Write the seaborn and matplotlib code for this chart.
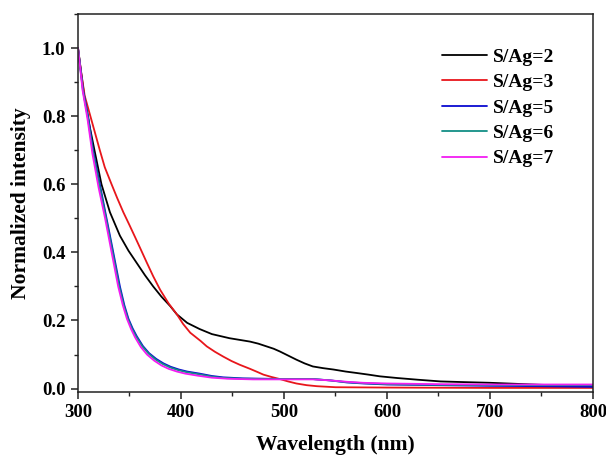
import numpy as np
import pandas as pd
import seaborn as sns
import matplotlib
matplotlib.use("Agg")
import matplotlib.pyplot as plt
from matplotlib.ticker import MultipleLocator, FormatStrFormatter

# ---- data ----
wl_2 = [300, 303, 306.5, 311, 316, 322.8, 331, 340.7, 349, 357, 365, 373, 381, 389.6, 396,
        406, 418, 430, 447, 457, 467, 475, 483, 490, 496, 504, 512, 520, 528, 538, 548,
        560, 570, 582, 593, 610, 630, 652, 675, 700, 750, 800]
int_2 = [1.0, 0.93, 0.85, 0.775, 0.70, 0.60, 0.518, 0.449, 0.405, 0.369, 0.333, 0.30,
         0.27, 0.242, 0.218, 0.193, 0.175, 0.160, 0.148, 0.143, 0.138, 0.132, 0.124,
         0.117, 0.109, 0.097, 0.085, 0.074, 0.065, 0.060, 0.056, 0.050, 0.046, 0.041,
         0.036, 0.031, 0.026, 0.021, 0.019, 0.017, 0.011, 0.007]

wl_3 = [300, 303, 306.5, 314.7, 321.2, 326, 332.6, 338, 344, 350, 355.4, 360.3, 366.8,
        373, 379.8, 388, 396, 402, 409, 419, 425, 433, 441, 449, 457, 467, 474, 480,
        488, 496, 504, 512, 522, 532, 550, 600, 700, 800]
int_3 = [1.0, 0.93, 0.86, 0.771, 0.70, 0.65, 0.60, 0.56, 0.518, 0.48, 0.445, 0.413, 0.37,
         0.33, 0.29, 0.25, 0.218, 0.19, 0.164, 0.14, 0.124, 0.108, 0.094, 0.081, 0.070,
         0.058, 0.049, 0.041, 0.034, 0.028, 0.021, 0.015, 0.010, 0.007, 0.004, 0.003,
         0.002, 0.002]

wl_5 = [300, 304.9, 309.8, 314.7, 321.2, 327.7, 333.6, 340.7, 345, 349, 353, 357, 363,
        369, 376, 383, 390, 398, 406, 418, 430, 441, 460, 480, 500, 528, 545, 561, 577,
        600, 650, 700, 750, 800]
int_5 = [1.0, 0.878, 0.80, 0.70, 0.60, 0.50, 0.41, 0.30, 0.245, 0.205, 0.177, 0.154,
         0.125, 0.104, 0.087, 0.074, 0.064, 0.056, 0.050, 0.044, 0.037, 0.033, 0.030,
         0.029, 0.028, 0.028, 0.024, 0.018, 0.015, 0.012, 0.010, 0.008, 0.007, 0.005]

wl_6 = [300, 304.7, 309.5, 314.4, 320.8, 327.2, 333, 340, 344.4, 348.4, 352.4, 356.4,
        362.4, 368.4, 375.4, 382.4, 389.4, 397.4, 405.4, 417.4, 430, 441, 460, 480, 500,
        528, 545, 561, 577, 600, 650, 700, 750, 800]
int_6 = [1.0, 0.877, 0.797, 0.697, 0.597, 0.50, 0.41, 0.30, 0.245, 0.205, 0.176, 0.153,
         0.124, 0.103, 0.085, 0.072, 0.062, 0.054, 0.048, 0.042, 0.035, 0.031, 0.029,
         0.028, 0.028, 0.028, 0.024, 0.019, 0.016, 0.013, 0.011, 0.010, 0.010, 0.010]

wl_7 = [300, 304.5, 309.3, 314, 320, 326.3, 332, 339, 343.5, 347.5, 351.5, 355.5, 361,
        367, 374, 381, 388, 396, 404, 416, 430, 445, 470, 500, 528, 545, 561, 577, 600,
        650, 700, 800]
int_7 = [1.0, 0.875, 0.79, 0.69, 0.59, 0.50, 0.41, 0.30, 0.245, 0.205, 0.175, 0.150,
         0.122, 0.100, 0.082, 0.068, 0.058, 0.050, 0.044, 0.038, 0.032, 0.029, 0.027,
         0.027, 0.027, 0.024, 0.020, 0.017, 0.015, 0.013, 0.012, 0.012]

labels = ["S/Ag=2", "S/Ag=3", "S/Ag=5", "S/Ag=6", "S/Ag=7"]
colors = ["#000000", "#e8161b", "#0a0ad0", "#138f86", "#f21cf2"]

series = [(wl_2, int_2), (wl_3, int_3), (wl_5, int_5), (wl_6, int_6), (wl_7, int_7)]
frames = []
for lab, (w, v) in zip(labels, series):
    frames.append(pd.DataFrame({"Wavelength": w, "Intensity": v, "Sample": lab}))
df = pd.concat(frames, ignore_index=True)

# ---- style ----
sns.set_theme(style="ticks")
plt.rcParams["font.family"] = ["Liberation Serif", "DejaVu Serif"]
plt.rcParams["font.weight"] = "bold"
plt.rcParams["axes.labelweight"] = "bold"
plt.rcParams["axes.labelcolor"] = "black"
plt.rcParams["text.color"] = "black"

fig = plt.figure(figsize=(6.06, 4.61), dpi=100)
ax = fig.add_axes([0.1287, 0.1497, 0.8498, 0.8199])

sns.lineplot(data=df, x="Wavelength", y="Intensity", hue="Sample",
             palette=dict(zip(labels, colors)), hue_order=labels,
             linewidth=1.3, ax=ax, sort=False, estimator=None)

ax.set_xlim(300, 800)
ax.set_ylim(-0.01, 1.1)
ax.xaxis.set_major_locator(MultipleLocator(100))
ax.xaxis.set_minor_locator(MultipleLocator(50))
ax.yaxis.set_major_locator(MultipleLocator(0.2))
ax.yaxis.set_minor_locator(MultipleLocator(0.1))
ax.yaxis.set_major_formatter(FormatStrFormatter("%.1f"))

for s in ax.spines.values():
    s.set_linewidth(1.1)
    s.set_color("#222222")
ax.tick_params(which="major", direction="out", length=5, width=1.1,
               labelsize=13.5, pad=4, top=False, right=False, color="#222222",
               labelcolor="black")
ax.tick_params(which="minor", direction="out", length=3, width=1.0,
               top=False, right=False, color="#222222")
for lab in ax.get_xticklabels() + ax.get_yticklabels():
    lab.set_fontweight("bold")

ax.set_xlabel("Wavelength (nm)", fontsize=15.5, fontweight="bold", labelpad=10,
              color="black")
ax.set_ylabel("Normalized intensity", fontsize=15.5, fontweight="bold", labelpad=8,
              color="black")

leg = ax.legend(loc="upper left", bbox_to_anchor=(0.692, 0.93), frameon=False,
                prop={"family": "Liberation Serif", "weight": "bold", "size": 14},
                handlelength=2.3, handletextpad=0.3, labelspacing=0.4,
                borderaxespad=0.0)
for h in leg.get_lines():
    h.set_linewidth(1.3)

fig.savefig("out.png", dpi=100)
